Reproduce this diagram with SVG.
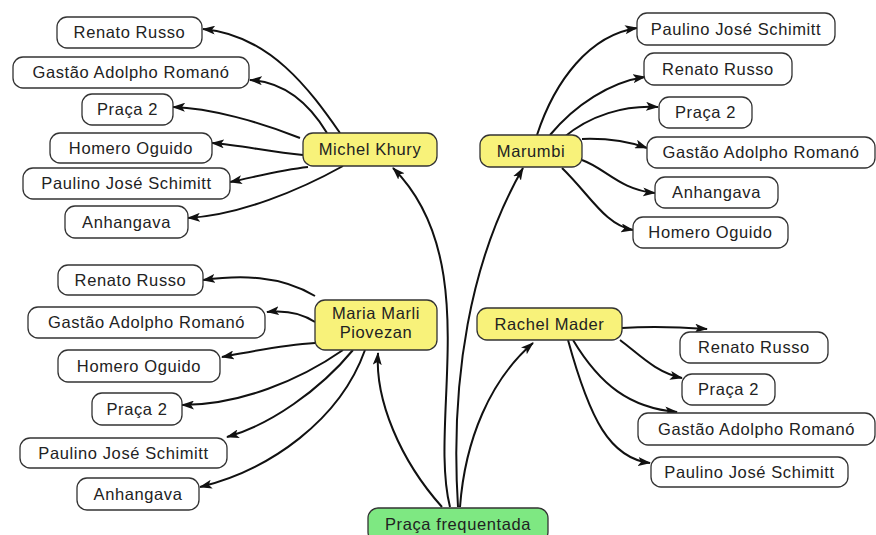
<svg xmlns="http://www.w3.org/2000/svg" width="876" height="535" viewBox="0 0 876 535">
<style>
.n rect{fill:#fff;stroke:#333;stroke-width:1.3}
.y rect{fill:#f8f27a}
.g rect{fill:#7ee882}
text{font-family:"Liberation Sans",Arial,sans-serif;font-size:16.5px;fill:#222;text-anchor:middle;letter-spacing:0.6px}
.c path{fill:none;stroke:#111;stroke-width:2}
</style>
<defs>
<marker id="ah" markerUnits="userSpaceOnUse" viewBox="0 0 13 9" refX="12" refY="4.5" markerWidth="13" markerHeight="9" orient="auto">
<path d="M0,0 L13,4.5 L0,9 L3,4.5 z" fill="#111"/>
</marker>
</defs>
<rect width="876" height="535" fill="#fff"/>
<g class="c" marker-end="url(#ah)">
<path d="M340,133 C310,90 270,35 203,29" marker-end="url(#ah)"/>
<path d="M327,133 C310,105 285,82 250,80" marker-end="url(#ah)"/>
<path d="M300,138 C260,122 210,108 173,107" marker-end="url(#ah)"/>
<path d="M303,155 C270,152 240,145 212,143" marker-end="url(#ah)"/>
<path d="M308,167 C280,170 255,177 230,182" marker-end="url(#ah)"/>
<path d="M343,166 C300,190 240,215 188,218" marker-end="url(#ah)"/>
<path d="M537,135 C555,80 590,35 637,28" marker-end="url(#ah)"/>
<path d="M550,135 C575,105 610,82 645,77" marker-end="url(#ah)"/>
<path d="M563,138 C590,115 625,105 658,107" marker-end="url(#ah)"/>
<path d="M582,139 C610,138 630,142 647,148" marker-end="url(#ah)"/>
<path d="M582,160 C605,168 620,190 655,193" marker-end="url(#ah)"/>
<path d="M562,168 C590,195 605,225 633,230" marker-end="url(#ah)"/>
<path d="M315,296 C280,275 240,275 203,280" marker-end="url(#ah)"/>
<path d="M315,322 C300,312 285,310 267,312" marker-end="url(#ah)"/>
<path d="M315,343 C280,345 250,352 222,357" marker-end="url(#ah)"/>
<path d="M343,350 C300,380 240,405 182,405" marker-end="url(#ah)"/>
<path d="M353,350 C320,390 270,425 227,437" marker-end="url(#ah)"/>
<path d="M365,350 C340,420 270,470 200,487" marker-end="url(#ah)"/>
<path d="M622,328 C650,326 680,327 707,329" marker-end="url(#ah)"/>
<path d="M620,340 C640,355 655,372 682,378" marker-end="url(#ah)"/>
<path d="M573,340 C600,385 630,408 677,412" marker-end="url(#ah)"/>
<path d="M568,340 C590,420 610,458 650,463" marker-end="url(#ah)"/>
<path d="M442,507 C400,460 375,400 378,353" marker-end="url(#ah)"/>
<path d="M450,507 C428,420 485,260 393,168" marker-end="url(#ah)"/>
<path d="M458,507 C450,380 470,260 523,168" marker-end="url(#ah)"/>
<path d="M460,507 C465,440 490,380 533,343" marker-end="url(#ah)"/>
</g>
<g id="root" class="n g"><rect x="368" y="508" width="180" height="34" rx="10"/><text x="458" y="530">Praça frequentada</text></g>
<g id="michel" class="n y"><rect x="303" y="133" width="134" height="33" rx="10"/><text x="370" y="155">Michel Khury</text></g>
<g id="marumbi" class="n y"><rect x="480" y="135" width="102" height="32" rx="10"/><text x="531" y="157">Marumbi</text></g>
<g id="maria" class="n y"><rect x="315" y="300" width="122" height="50" rx="10"/><text x="376" y="319">Maria Marli</text><text x="376" y="338">Piovezan</text></g>
<g id="rachel" class="n y"><rect x="477" y="308" width="145" height="32" rx="10"/><text x="549.5" y="330">Rachel Mader</text></g>
<g id="mk1" class="n"><rect x="57" y="17" width="145" height="31" rx="10"/><text x="129.5" y="38">Renato Russo</text></g>
<g id="mk2" class="n"><rect x="13" y="57" width="236" height="31" rx="10"/><text x="131" y="78">Gastão Adolpho Romanó</text></g>
<g id="mk3" class="n"><rect x="82" y="94" width="91" height="31" rx="10"/><text x="127.5" y="115">Praça 2</text></g>
<g id="mk4" class="n"><rect x="50" y="133" width="162" height="30" rx="10"/><text x="131" y="154">Homero Oguido</text></g>
<g id="mk5" class="n"><rect x="23" y="168" width="207" height="31" rx="10"/><text x="126.5" y="189">Paulino José Schimitt</text></g>
<g id="mk6" class="n"><rect x="65" y="206" width="123" height="32" rx="10"/><text x="126.5" y="228">Anhangava</text></g>
<g id="mu1" class="n"><rect x="637" y="13" width="198" height="32" rx="10"/><text x="736" y="35">Paulino José Schimitt</text></g>
<g id="mu2" class="n"><rect x="644" y="53" width="148" height="32" rx="10"/><text x="718" y="75">Renato Russo</text></g>
<g id="mu3" class="n"><rect x="659" y="97" width="93" height="31" rx="10"/><text x="705.5" y="118">Praça 2</text></g>
<g id="mu4" class="n"><rect x="647" y="137" width="228" height="31" rx="10"/><text x="761" y="158">Gastão Adolpho Romanó</text></g>
<g id="mu5" class="n"><rect x="655" y="177" width="123" height="31" rx="10"/><text x="716.5" y="198">Anhangava</text></g>
<g id="mu6" class="n"><rect x="633" y="217" width="155" height="31" rx="10"/><text x="710.5" y="238">Homero Oguido</text></g>
<g id="mm1" class="n"><rect x="58" y="265" width="145" height="30" rx="10"/><text x="130.5" y="286">Renato Russo</text></g>
<g id="mm2" class="n"><rect x="28" y="307" width="237" height="31" rx="10"/><text x="146.5" y="328">Gastão Adolpho Romanó</text></g>
<g id="mm3" class="n"><rect x="58" y="350" width="162" height="32" rx="10"/><text x="139" y="372">Homero Oguido</text></g>
<g id="mm4" class="n"><rect x="92" y="393" width="90" height="32" rx="10"/><text x="137" y="415">Praça 2</text></g>
<g id="mm5" class="n"><rect x="20" y="438" width="207" height="30" rx="10"/><text x="123.5" y="459">Paulino José Schimitt</text></g>
<g id="mm6" class="n"><rect x="77" y="478" width="122" height="32" rx="10"/><text x="138" y="500">Anhangava</text></g>
<g id="rm1" class="n"><rect x="680" y="332" width="148" height="31" rx="10"/><text x="754" y="353">Renato Russo</text></g>
<g id="rm2" class="n"><rect x="682" y="374" width="93" height="31" rx="10"/><text x="728.5" y="395">Praça 2</text></g>
<g id="rm3" class="n"><rect x="638" y="413" width="237" height="32" rx="10"/><text x="756.5" y="435">Gastão Adolpho Romanó</text></g>
<g id="rm4" class="n"><rect x="651" y="457" width="197" height="30" rx="10"/><text x="749.5" y="478">Paulino José Schimitt</text></g>
</svg>
